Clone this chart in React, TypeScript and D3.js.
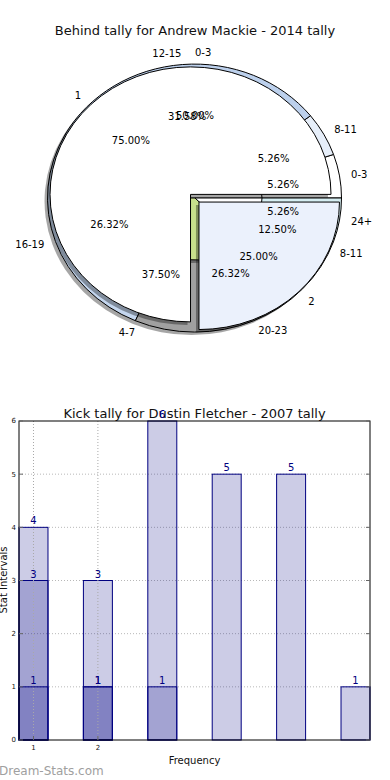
import * as d3 from "d3";

// pie chart data (three pies drawn on top of each other)
const pieTitle = "Behind tally for Andrew Mackie - 2014 tally";
const pieALabels = ["1", "2"];
const pieAValues = [3, 1];
const pieAColors = ["#ffffff", "#ebf1fc"];
const pieBLabels = ["0-3", "4-7", "8-11"];
const pieBValues = [4, 3, 1];
const pieBColors = ["#ffffff", "#c8e08c", "#ffffff"];
const pieCLabels = ["0-3", "8-11", "12-15", "16-19", "20-23", "24+"];
const pieCValues = [1, 1, 6, 5, 5, 1];
const pieCColors = ["#ffffff", "#e6eef9", "#bcd0ec", "#c4d6ee", "#a0a0a0", "#d6eef2"];

// bar chart data
const barTitle = "Kick tally for Dustin Fletcher - 2007 tally";
const seriesOne = [4, 3, 6, 5, 5, 1];
const seriesTwo = [3, 1, 1];
const seriesThree = [1, 1];
const yTicks = [0, 1, 2, 3, 4, 5, 6];
const xTicks = [1, 2];

const font = "DejaVu Sans, sans-serif";

const pies = [
  { labels: pieCLabels, values: pieCValues, colors: pieCColors, cx: 194.5, cy: 198, rx: 147, ry: 134, explode: [0, 0, 0, 0, 0, 0], pct: 0.612, lab: 1.08 },
  { labels: pieBLabels, values: pieBValues, colors: pieBColors, cx: 195, cy: 198, rx: 67, ry: 62, explode: [0, 0, 0], pct: 1.33, lab: 2.34 },
  { labels: pieALabels, values: pieAValues, colors: pieAColors, cx: 194.5, cy: 198, rx: 140.5, ry: 127.5, explode: [0.04, 0.045], pct: 0.6, lab: 1.1 },
];

const pieGen = d3
  .pie<number>()
  .sort(null)
  .startAngle(Math.PI / 2)
  .endAngle(Math.PI / 2 - 2 * Math.PI);

const arcGen = d3.arc<d3.PieArcDatum<number>>().innerRadius(0).outerRadius(1);
const pctFmt = d3.format(".2f");

const PieLayer = ({ p }: { p: (typeof pies)[number] }) => {
  const arcs = pieGen(p.values);
  const off = arcs.map((a, i) => {
    const m = (a.startAngle + a.endAngle) / 2;
    const e = p.explode[i];
    return [p.cx + e * p.rx * Math.sin(m), p.cy - e * p.ry * Math.cos(m)];
  });
  return (
    <g>
      {arcs.map((a, i) => (
        <path
          key={"s" + i}
          d={arcGen(a) || ""}
          transform={`translate(${off[i][0] - 3},${off[i][1] + 3}) scale(${p.rx},${p.ry})`}
          fill="#000"
          fillOpacity={0.35}
        />
      ))}
      {arcs.map((a, i) => (
        <path
          key={"w" + i}
          d={arcGen(a) || ""}
          transform={`translate(${off[i][0]},${off[i][1]}) scale(${p.rx},${p.ry})`}
          fill={p.colors[i]}
          stroke="#000"
          strokeWidth={1}
          vectorEffect="non-scaling-stroke"
        />
      ))}
    </g>
  );
};

const PieText = ({ p }: { p: (typeof pies)[number] }) => {
  const arcs = pieGen(p.values);
  const total = d3.sum(p.values);
  return (
    <g fontFamily={font} fontSize={10} fill="#000">
      {arcs.map((a, i) => {
        const m = (a.startAngle + a.endAngle) / 2;
        const sx = Math.sin(m);
        const sy = -Math.cos(m);
        const e = p.explode[i];
        const ox = p.cx + e * p.rx * sx;
        const oy = p.cy + e * p.ry * sy;
        return (
          <g key={i}>
            <text
              x={ox + p.lab * p.rx * sx}
              y={oy + p.lab * p.ry * sy}
              dy="0.35em"
              textAnchor={sx > -1e-9 ? "start" : "end"}
              fill="#000"
            >
              {p.labels[i]}
            </text>
            <text x={ox + p.pct * p.rx * sx} y={oy + p.pct * p.ry * sy} dy="0.35em" textAnchor="middle" fill="#000">
              {pctFmt((p.values[i] / total) * 100) + "%"}
            </text>
          </g>
        );
      })}
    </g>
  );
};

const BarChart = () => {
  const x = d3.scaleLinear().domain([0.775, 6.225]).range([19, 370]);
  const y = d3.scaleLinear().domain([0, 6]).range([740, 421]);
  const bw = 0.45;
  const series = [seriesOne, seriesTwo, seriesThree];
  const navy = "#000080";
  return (
    <g fontFamily={font}>
      <text x={194.5} y={417.5} textAnchor="middle" fontSize={13} fill="#111">
        {barTitle}
      </text>
      {yTicks.slice(1, -1).map((t) => (
        <line key={"gy" + t} x1={19} x2={370} y1={y(t)} y2={y(t)} stroke="#b8b8b8" strokeDasharray="1,2" />
      ))}
      {series.map((s, si) =>
        s.map((v, i) => (
          <rect
            key={si + "-" + i}
            x={x(i + 1 - bw / 2)}
            y={y(v)}
            width={x(i + 1 + bw / 2) - x(i + 1 - bw / 2)}
            height={y(0) - y(v)}
            fill={navy}
            fillOpacity={0.2}
            stroke={navy}
            strokeWidth={1}
          />
        ))
      )}
      {xTicks.map((t) => (
        <line key={"gx" + t} x1={x(t)} x2={x(t)} y1={421} y2={740} stroke="#a8a8a8" strokeDasharray="1,2" />
      ))}
      <rect x={19} y={421} width={351} height={319} fill="none" stroke="#000" strokeWidth={1} />
      {yTicks.map((t) => (
        <g key={"ty" + t}>
          <line x1={19} x2={23} y1={y(t)} y2={y(t)} stroke="#666" />
          <line x1={366} x2={370} y1={y(t)} y2={y(t)} stroke="#666" />
          <text x={16} y={y(t)} dy="0.35em" textAnchor="end" fontSize={7} fill="#111">
            {t}
          </text>
        </g>
      ))}
      {xTicks.map((t) => (
        <g key={"tx" + t}>
          <line x1={x(t)} x2={x(t)} y1={740} y2={736} stroke="#666" />
          <text x={x(t)} y={748} dy="0.35em" textAnchor="middle" fontSize={7} fill="#111">
            {t}
          </text>
        </g>
      ))}
      {series.map((s, si) =>
        s.map((v, i) => (
          <text key={"l" + si + "-" + i} x={x(i + 1)} y={y(v) - 3} textAnchor="middle" fontSize={10} fill={navy}>
            {v}
          </text>
        ))
      )}
      <text transform="translate(7,580) rotate(-90)" textAnchor="middle" fontSize={10} fill="#111">
        Stat Intervals
      </text>
      <text x={194.5} y={764} textAnchor="middle" fontSize={10} fill="#111">
        Frequency
      </text>
    </g>
  );
};

export default function App() {
  return (
    <svg
      width={390}
      height={780}
      style={{ position: "absolute", left: 0, top: 0, background: "#fff" }}
    >
      <text x={195} y={34.5} textAnchor="middle" fontFamily={font} fontSize={13} fill="#111">
        {pieTitle}
      </text>
      {pies.map((p, i) => (
        <PieLayer key={i} p={p} />
      ))}
      {pies.map((p, i) => (
        <PieText key={i} p={p} />
      ))}
      <BarChart />
      <text x={-1} y={775} fontFamily={font} fontSize={12} fill="#a0a0a0">
        Dream-Stats.com
      </text>
    </svg>
  );
}
